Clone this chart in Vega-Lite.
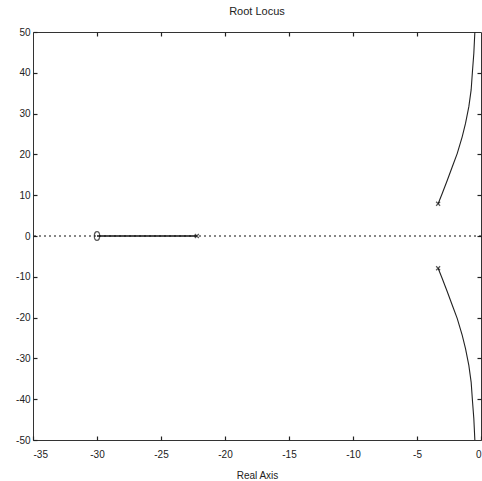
{
  "$schema": "https://vega.github.io/schema/vega-lite/v6.json",
  "width": 448,
  "height": 408,
  "autosize": {"type": "none"},
  "padding": {"left": 33, "top": 32, "right": 1, "bottom": 41},
  "background": "white",
  "title": {"text": "Root Locus", "fontSize": 11, "font": "Liberation Sans", "fontWeight": "normal", "color": "#222", "offset": 10},
  "config": {
    "view": {"stroke": "#333", "strokeWidth": 1},
    "axis": {"grid": false, "domain": false, "labelFont": "Liberation Sans", "labelFontSize": 10, "labelColor": "#222", "tickColor": "#222", "tickSize": -4, "tickWidth": 1.2, "titleFont": "Liberation Sans", "titleFontWeight": "normal", "titleFontSize": 10, "titleColor": "#222"}
  },
  "datasets": {
    "lines": [
      {"branch": "upper", "i": 0, "x": -3.35, "y": 7.9},
      {"branch": "upper", "i": 1, "x": -3.03, "y": 10.4},
      {"branch": "upper", "i": 2, "x": -2.64, "y": 13.6},
      {"branch": "upper", "i": 3, "x": -2.25, "y": 16.9},
      {"branch": "upper", "i": 4, "x": -1.86, "y": 20.2},
      {"branch": "upper", "i": 5, "x": -1.47, "y": 24.3},
      {"branch": "upper", "i": 6, "x": -1.21, "y": 27.6},
      {"branch": "upper", "i": 7, "x": -0.95, "y": 31.7},
      {"branch": "upper", "i": 8, "x": -0.77, "y": 35.8},
      {"branch": "upper", "i": 9, "x": -0.66, "y": 40.7},
      {"branch": "upper", "i": 10, "x": -0.56, "y": 44.8},
      {"branch": "upper", "i": 11, "x": -0.48, "y": 50},
      {"branch": "lower", "i": 0, "x": -3.35, "y": -7.9},
      {"branch": "lower", "i": 1, "x": -3.03, "y": -10.4},
      {"branch": "lower", "i": 2, "x": -2.64, "y": -13.6},
      {"branch": "lower", "i": 3, "x": -2.25, "y": -16.9},
      {"branch": "lower", "i": 4, "x": -1.86, "y": -20.2},
      {"branch": "lower", "i": 5, "x": -1.47, "y": -24.3},
      {"branch": "lower", "i": 6, "x": -1.21, "y": -27.6},
      {"branch": "lower", "i": 7, "x": -0.95, "y": -31.7},
      {"branch": "lower", "i": 8, "x": -0.77, "y": -35.8},
      {"branch": "lower", "i": 9, "x": -0.66, "y": -40.7},
      {"branch": "lower", "i": 10, "x": -0.56, "y": -44.8},
      {"branch": "lower", "i": 11, "x": -0.48, "y": -50}
    ],
    "real": [
      {"x": -30, "y": 0},
      {"x": -22.2, "y": 0}
    ],
    "poles": [
      {"x": -22.2, "y": 0},
      {"x": -3.35, "y": 7.9},
      {"x": -3.35, "y": -7.9}
    ],
    "zeros": [
      {"x": -30, "y": 0}
    ],
    "origin": [{"y": 0}]
  },
  "resolve": {"axis": {"x": "independent", "y": "independent"}},
  "layer": [
    {
      "data": {"name": "origin"},
      "mark": {"type": "rule", "color": "#111", "strokeDash": [2, 3], "strokeWidth": 1.2},
      "encoding": {
        "y": {"field": "y", "type": "quantitative", "scale": {"domain": [-50, 50], "nice": false},
          "axis": {"orient": "left", "values": [-50, -40, -30, -20, -10, 0, 10, 20, 30, 40, 50], "labelExpr": "datum.value", "title": null, "labelPadding": 7}}
      }
    },
    {
      "data": {"name": "lines"},
      "mark": {"type": "line", "color": "#222", "strokeWidth": 1.1, "clip": true},
      "encoding": {
        "x": {"field": "x", "type": "quantitative", "scale": {"domain": [-35, 0], "nice": false, "zero": false},
          "axis": {"orient": "bottom", "values": [-35, -30, -25, -20, -15, -10, -5, 0], "labelExpr": "datum.value", "title": "Real Axis", "labelPadding": 13, "titlePadding": 11}},
        "y": {"field": "y", "type": "quantitative", "scale": {"domain": [-50, 50], "nice": false},
          "axis": {"orient": "right", "values": [-40, -30, -20, -10, 0, 10, 20, 30, 40], "labels": false, "title": null}},
        "detail": {"field": "branch"},
        "order": {"field": "i", "type": "quantitative"}
      }
    },
    {
      "data": {"name": "real"},
      "mark": {"type": "line", "color": "#111", "strokeWidth": 1.6},
      "encoding": {
        "x": {"field": "x", "type": "quantitative", "scale": {"domain": [-35, 0], "nice": false, "zero": false},
          "axis": {"orient": "top", "values": [-30, -25, -20, -15, -10, -5], "labels": false, "title": null}},
        "y": {"field": "y", "type": "quantitative", "axis": null}
      }
    },
    {
      "data": {"name": "poles"},
      "mark": {"type": "point", "shape": "M-1,-1L1,1M1,-1L-1,1", "size": 16, "stroke": "#111", "strokeWidth": 1.2, "filled": false},
      "encoding": {
        "x": {"field": "x", "type": "quantitative", "axis": null},
        "y": {"field": "y", "type": "quantitative", "axis": null}
      }
    },
    {
      "data": {"name": "zeros"},
      "mark": {"type": "point", "shape": "M0,-1.3A0.8,1.3 0 1,1 0,1.3A0.8,1.3 0 1,1 0,-1.3Z", "size": 45, "stroke": "#111", "strokeWidth": 1.2, "filled": false},
      "encoding": {
        "x": {"field": "x", "type": "quantitative", "axis": null},
        "y": {"field": "y", "type": "quantitative", "axis": null}
      }
    }
  ]
}
